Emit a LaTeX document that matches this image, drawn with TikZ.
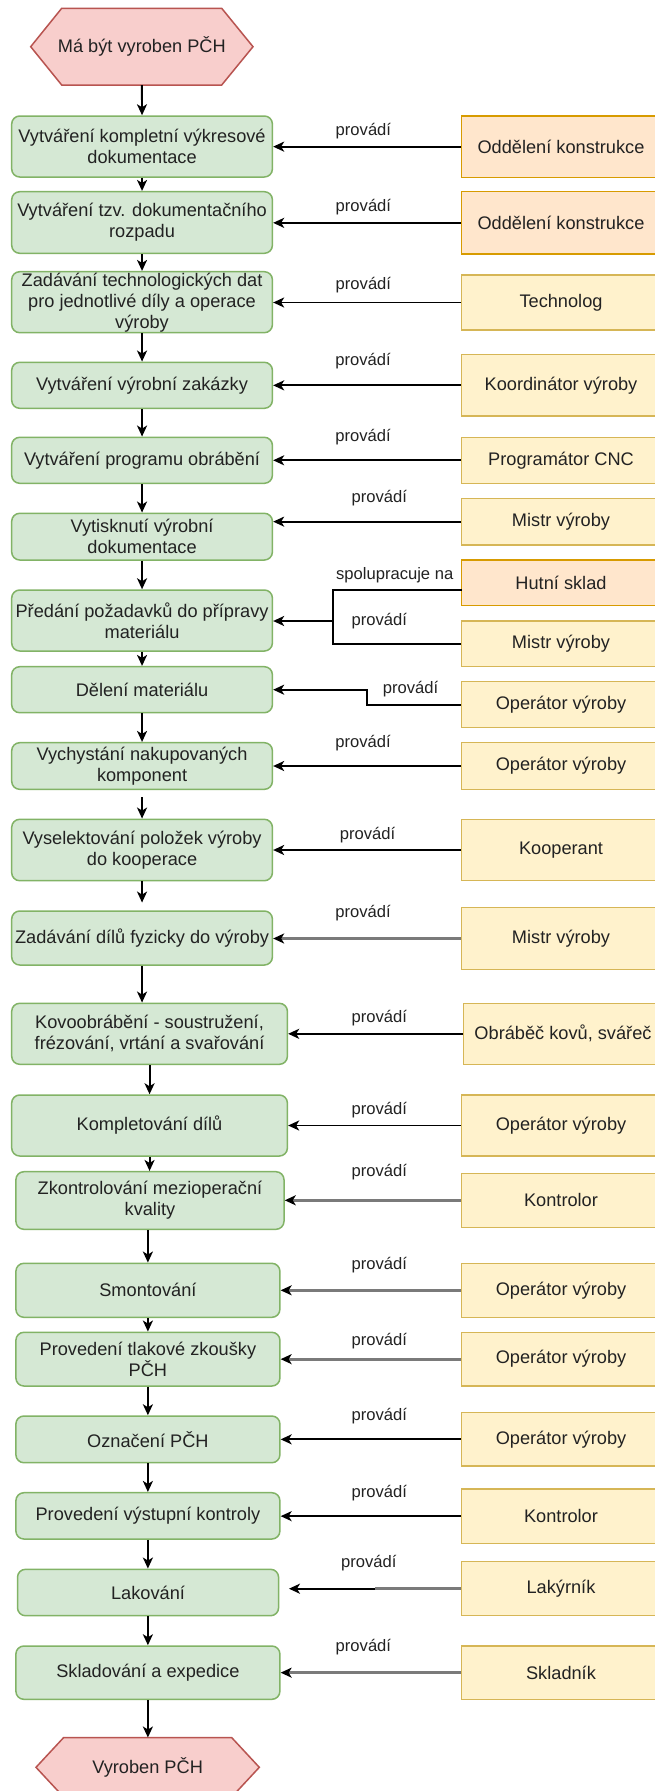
\documentclass[tikz,border=0pt]{standalone}
\usepackage{fontspec}
\setmainfont{Liberation Sans}
\usetikzlibrary{arrows.meta}
\definecolor{gfill}{HTML}{D5E8D4}
\definecolor{gdraw}{HTML}{82B366}
\definecolor{yfill}{HTML}{FFF2CC}
\definecolor{ydraw}{HTML}{D6B656}
\definecolor{ofill}{HTML}{FFE6CC}
\definecolor{odraw}{HTML}{D79B00}
\definecolor{rfill}{HTML}{F8CECC}
\definecolor{rdraw}{HTML}{B85450}
\definecolor{txt}{HTML}{222222}
\definecolor{glink}{HTML}{7A7A7A}
\newcommand{\boxfont}{\fontsize{18.2pt}{21pt}\selectfont}
\newcommand{\labfont}{\fontsize{16.6pt}{19pt}\selectfont}
\begin{document}
\begin{tikzpicture}[x=1pt,y=-1pt,
  proc/.style={draw=gdraw, fill=gfill, line width=1.5pt, rounded corners=8pt, text=txt, font=\boxfont, align=center, inner sep=0pt},
  role/.style={draw=ydraw, fill=yfill, line width=1.5pt, text=txt, font=\boxfont, align=center, inner sep=0pt, minimum width=199pt},
  rolep/.style={role, draw=odraw, fill=ofill},
  lab/.style={font=\labfont, text=txt, inner sep=0pt},
  flow/.style={draw=black, line width=1.9pt, -{Stealth[length=11pt,width=10pt,inset=3pt]}},
  gflow/.style={draw=glink, line width=2.8pt, -{Stealth[length=11pt,width=10pt,inset=3pt,color=black]}},
  conn/.style={draw=black, line width=1.9pt},
  gconn/.style={draw=glink, line width=2.8pt},
  hexa/.style={draw=rdraw, fill=rfill, line width=1.5pt},
  hextext/.style={font=\boxfont, text=txt, inner sep=0pt, align=center}
]
\clip (0,0) rectangle (655,1791);
\fill[white] (0,0) rectangle (655,1791);

% start hexagon
\draw[hexa] (30.7,46.7) -- (61.7,8.3) -- (221.7,8.3) -- (253,46.7) -- (221.7,85) -- (61.7,85) -- cycle;
\node[hextext, minimum width=222pt, minimum height=76.7pt] (start) at (141.85,46.65) {Má být vyroben PČH};

% process boxes
\node[proc, minimum width=260.7pt, minimum height=61pt]   (b1)  at (142.05,146.5)  {Vytváření kompletní výkresové\\dokumentace};
\node[proc, minimum width=260.7pt, minimum height=61.6pt] (b2)  at (142.05,222.5)  {Vytváření tzv. dokumentačního\\rozpadu};
\node[proc, minimum width=260.7pt, minimum height=61pt]   (b3)  at (142.05,302.2)  {Zadávání technologických dat\\pro jednotlivé díly a operace\\výroby};
\node[proc, minimum width=260.7pt, minimum height=46pt]   (b4)  at (142.05,385.3)  {Vytváření výrobní zakázky};
\node[proc, minimum width=260.7pt, minimum height=46pt]   (b5)  at (142.05,460.3)  {Vytváření programu obrábění};
\node[proc, minimum width=260.7pt, minimum height=46.7pt] (b6)  at (142.05,536.65) {Vytisknutí výrobní\\dokumentace};
\node[proc, minimum width=260.7pt, minimum height=61pt]   (b7)  at (142.05,620.5)  {Předání požadavků do přípravy\\materiálu};
\node[proc, minimum width=260.7pt, minimum height=46pt]   (b8)  at (142.05,689.7)  {Dělení materiálu};
\node[proc, minimum width=260.7pt, minimum height=46.6pt] (b9)  at (142.05,766)    {Vychystání nakupovaných\\komponent};
\node[proc, minimum width=260.7pt, minimum height=61.4pt] (b10) at (142.05,850)    {Vyselektování položek výroby\\do kooperace};
\node[proc, minimum width=260.7pt, minimum height=54pt]   (b11) at (142.05,938)    {Zadávání dílů fyzicky do výroby};
\node[proc, minimum width=275.7pt, minimum height=61pt]   (b12) at (149.55,1033.8) {Kovoobrábění - soustružení,\\frézování, vrtání a svařování};
\node[proc, minimum width=275.7pt, minimum height=61pt]   (b13) at (149.55,1125.5) {Kompletování dílů};
\node[proc, minimum width=268.1pt, minimum height=57.6pt] (b14) at (149.95,1200.5) {Zkontrolování mezioperační\\kvality};
\node[proc, minimum width=264pt, minimum height=54pt]     (b15) at (147.9,1290.3)  {Smontování};
\node[proc, minimum width=264pt, minimum height=53.7pt]   (b16) at (147.9,1359.15) {Provedení tlakové zkoušky\\PČH};
\node[proc, minimum width=264pt, minimum height=46.7pt]   (b17) at (147.9,1439.35) {Označení PČH};
\node[proc, minimum width=264pt, minimum height=46.3pt]   (b18) at (147.9,1515.85) {Provedení výstupní kontroly};
\node[proc, minimum width=261.1pt, minimum height=46.4pt] (b19) at (148.05,1592.5) {Lakování};
\node[proc, minimum width=264pt, minimum height=53.3pt]   (b20) at (147.9,1672.65) {Skladování a expedice};

% end hexagon
\draw[hexa] (36,1767.3) -- (63.5,1737.7) -- (231.8,1737.7) -- (259.3,1767.3) -- (231.8,1796.9) -- (63.5,1796.9) -- cycle;
\node[hextext, minimum width=223pt, minimum height=59.2pt] (endn) at (147.65,1767.3) {Vyroben PČH};

% role boxes
\node[rolep, minimum height=61.3pt] (o1)  at (561,146.65)  {Oddělení konstrukce};
\node[rolep, minimum height=62.3pt] (o2)  at (561,222.85)  {Oddělení konstrukce};
\node[role,  minimum height=55pt]   (o3)  at (561,302.5)   {Technolog};
\node[role,  minimum height=61.3pt] (o4)  at (561,385.35)  {Koordinátor výroby};
\node[role,  minimum height=46pt]   (o5)  at (561,460.3)   {Programátor CNC};
\node[role,  minimum height=46.7pt] (o6)  at (561,521.65)  {Mistr výroby};
\node[rolep, minimum height=45.7pt] (o7)  at (561,582.85)  {Hutní sklad};
\node[role,  minimum height=45.7pt] (o8)  at (561,643.85)  {Mistr výroby};
\node[role,  minimum height=46pt]   (o9)  at (561,704.7)   {Operátor výroby};
\node[role,  minimum height=46.6pt] (o10) at (561,766)     {Operátor výroby};
\node[role,  minimum height=61.4pt] (o11) at (561,850)     {Kooperant};
\node[role,  minimum height=61.6pt] (o12) at (561,938.5)   {Mistr výroby};
\node[role,  minimum height=61pt]   (o13) at (563,1033.8)  {Obráběč kovů, svářeč};
\node[role,  minimum height=61pt]   (o14) at (561,1125.5)  {Operátor výroby};
\node[role,  minimum height=54pt]   (o15) at (561,1200.3)  {Kontrolor};
\node[role,  minimum height=54pt]   (o16) at (561,1290.3)  {Operátor výroby};
\node[role,  minimum height=53.7pt] (o17) at (561,1359.15) {Operátor výroby};
\node[role,  minimum height=53.3pt] (o18) at (561,1439.35) {Operátor výroby};
\node[role,  minimum height=54.3pt] (o19) at (561,1516.15) {Kontrolor};
\node[role,  minimum height=54pt]   (o20) at (561,1588.7)  {Lakýrník};
\node[role,  minimum height=53.3pt] (o21) at (561,1672.65) {Skladník};

% labels
\node[lab] (l1)  at (363.4,131)    {provádí};
\node[lab] (l2)  at (363.4,207)    {provádí};
\node[lab] (l3)  at (363.4,285)    {provádí};
\node[lab] (l4)  at (363,360.7)    {provádí};
\node[lab] (l5)  at (363,436.7)    {provádí};
\node[lab] (l6)  at (379.3,498.3)  {provádí};
\node[lab] (l7a) at (394.7,575)    {spolupracuje na};
\node[lab] (l7b) at (379.3,621)    {provádí};
\node[lab] (l8)  at (410.6,689.3)  {provádí};
\node[lab] (l9)  at (363,742.7)    {provádí};
\node[lab] (l10) at (367.6,835)    {provádí};
\node[lab] (l11) at (363,912.7)    {provádí};
\node[lab] (l12) at (379.3,1018.3) {provádí};
\node[lab] (l13) at (379.3,1110)   {provádí};
\node[lab] (l14) at (379.3,1171.7) {provádí};
\node[lab] (l15) at (379.3,1265)   {provádí};
\node[lab] (l16) at (379.3,1341)   {provádí};
\node[lab] (l17) at (379.3,1416)   {provádí};
\node[lab] (l18) at (379.3,1492.7) {provádí};
\node[lab] (l19) at (368.8,1563.3) {provádí};
\node[lab] (l20) at (363.4,1647.3) {provádí};

% flow arrows
\draw[flow] (start.south) -- (b1.north);
\draw[flow] (b1.south) -- (b2.north);
\draw[flow] (b2.south) -- (b3.north);
\draw[flow] (b3.south) -- (b4.north);
\draw[flow] (b4.south) -- (b5.north);
\draw[flow] (b5.south) -- (b6.north);
\draw[flow] (b6.south) -- (b7.north);
\draw[flow] (b7.south) -- (b8.north);
\draw[flow] (b8.south) -- (b9.north);
\draw[flow, shorten <=7.4pt] (b9.south) -- (b10.north);
\draw[flow, shorten >=7.7pt] (b10.south) -- (b11.north);
\draw[flow] (b11.south) -- (b11.south |- b12.north);
\draw[flow] (b12.south) -- (b13.north);
\draw[flow] (b13.south) -- (b13.south |- b14.north);
\draw[flow] (b14.south -| b15.north) -- (b15.north);
\draw[flow] (b15.south) -- (b16.north);
\draw[flow] (b16.south) -- (b17.north);
\draw[flow] (b17.south) -- (b18.north);
\draw[flow] (b18.south) -- (b18.south |- b19.north);
\draw[flow] (b19.south -| b20.north) -- (b20.north);
\draw[flow] (b20.south) -- (b20.south |- endn.north);

% role connectors
\draw[flow] (o1.west) -- (b1.east |- o1.west);
\draw[flow] (o2.west) -- (b2.east |- o2.west);
\draw[flow] (o3.west) -- (b3.east |- o3.west);
\draw[flow] (o4.west) -- (b4.east |- o4.west);
\draw[flow] (o5.west) -- (b5.east |- o5.west);
\draw[flow] (o6.west) -- (b6.east |- o6.west);
\coordinate (o7out) at (461.5,590);
\coordinate (j7) at (333.3,621);
\draw[conn] (o7out) -| (j7);
\draw[conn] (o8.west) -| (j7);
\draw[flow] (j7) -- (b7.east |- j7);
\coordinate (k8) at (367.3,689.7);
\draw[flow] (o9.west) -| (k8) -- (b8.east);
\draw[flow] (o10.west) -- (b9.east |- o10.west);
\draw[flow] (o11.west) -- (b10.east |- o11.west);
\draw[gflow] (o12.west) -- (b11.east |- o12.west);
\draw[flow] (o13.west) -- (b12.east |- o13.west);
\draw[flow] (o14.west) -- (b13.east |- o14.west);
\draw[gflow] (o15.west) -- (b14.east |- o15.west);
\draw[gflow] (o16.west) -- (b15.east |- o16.west);
\draw[gflow] (o17.west) -- (b16.east |- o17.west);
\draw[flow] (o18.west) -- (b17.east |- o18.west);
\draw[flow] (o19.west) -- (b18.east |- o19.west);
\coordinate (m20) at (375,1588.7);
\draw[gconn] (o20.west) -- (m20);
\draw[flow, shorten >=9.6pt] (m20) -- (b19.east |- m20);
\draw[gflow] (o21.west) -- (b20.east |- o21.west);
\end{tikzpicture}
\end{document}
